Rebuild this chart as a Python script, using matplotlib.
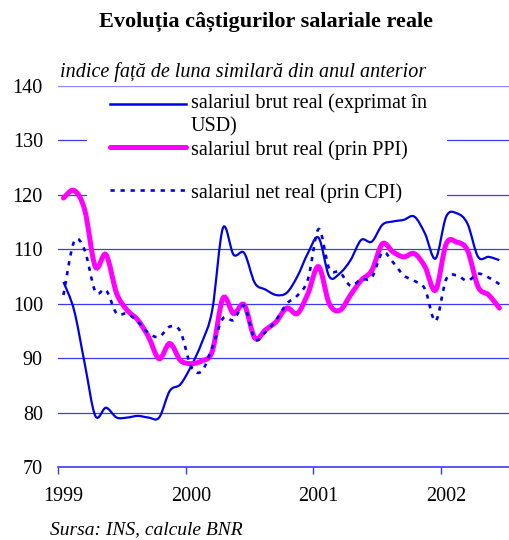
import numpy as np
import matplotlib
matplotlib.use("Agg")
import matplotlib.pyplot as plt
from matplotlib.path import Path
from matplotlib.patches import PathPatch, Rectangle
from matplotlib.lines import Line2D

plt.rcParams['font.family'] = ['Liberation Serif', 'DejaVu Serif']

# monthly data, Jan 1999 - Jun 2002
usd = [104, 98.8, 89, 79.4, 80.9, 79.1, 79.1, 79.4, 79.1, 79.1, 84, 85.2,
       88.5, 92.8, 98.9, 113.9, 109, 109.3, 103.8, 102.6, 101.6, 102, 105, 109.3,
       112.1, 105, 105.6, 108, 111.7, 111.4, 114.5, 115.1, 115.4, 116, 112.9, 108.3,
       116, 116.6, 114.7, 108.6, 108.6, 108]
ppi = [119.4, 120.8, 117.2, 106.8, 109, 101.9, 98.8, 97, 93.9, 89.9, 92.7, 89.6,
       89, 89.5, 91.3, 101, 98.2, 99.8, 93.7, 95.2, 96.7, 99.2, 98.2, 101.9,
       106.8, 100, 98.8, 101.6, 104.3, 106.1, 111, 109.5, 108.6, 109.2, 106.8, 102.5,
       111, 111.3, 109.8, 103.1, 101.6, 99.2]
cpi = [101.6, 111.4, 109.8, 102.2, 102.5, 98.2, 98.2, 96.7, 94.6, 93.9, 95.8, 94.9,
       88.5, 87.6, 92, 97.3, 97, 99.6, 93.5, 94.8, 97, 100, 101.5, 104.5,
       113.7, 106.4, 105.8, 103.3, 104.5, 104.8, 109.4, 107.6, 105.2, 104.2, 102.7, 96.8,
       104.5, 105.2, 104.2, 105.5, 104.8, 103.6]
years = ['1999', '2000', '2001', '2002']
labels = ['salariul brut real (exprimat în\nUSD)',
          'salariul brut real (prin PPI)',
          'salariul net real (prin CPI)']


def smooth_path(xs, ys):
    """Excel-like smoothed line: Catmull-Rom segments as cubic Bezier curves"""
    p = np.column_stack([xs, ys]).astype(float)
    n = len(p)
    verts = [p[0]]
    codes = [Path.MOVETO]
    for i in range(n - 1):
        p_prev = p[max(i - 1, 0)]
        p_next = p[min(i + 2, n - 1)]
        c1 = p[i] + (p[i + 1] - p_prev) / 6.0
        c2 = p[i + 1] - (p_next - p[i]) / 6.0
        verts += [c1, c2, p[i + 1]]
        codes += [Path.CURVE4] * 3
    return Path(verts, codes)


x = np.arange(len(usd))

fig = plt.figure(figsize=(5.1, 5.4), dpi=100)
ax = fig.add_axes([0.114, 0.135, 0.886, 0.706])

grid_c = '#3a3aff'
for v in range(80, 140, 10):
    ax.axhline(v, color=grid_c, lw=0.9, zorder=1)
ax.axhline(140, color='#8a8aff', lw=0.9, zorder=1)

ax.add_patch(PathPatch(smooth_path(x, usd), fill=False, edgecolor='#0000e6',
                       lw=1.6, zorder=3))
ax.add_patch(PathPatch(smooth_path(x, ppi), fill=False, edgecolor='#ff00ff',
                       lw=3.6, zorder=3, capstyle='round'))
ax.add_patch(PathPatch(smooth_path(x, cpi), fill=False, edgecolor='#0000e6',
                       lw=1.9, ls=(0, (1.6, 2.2)), zorder=3))

ax.set_xlim(-0.5, 42)
ax.set_ylim(70, 140)
ax.set_yticks(range(70, 141, 10))
ax.tick_params(axis='y', length=0, pad=11, labelsize=14.5)
ax.set_xticks([-0.5 + 12 * k for k in range(len(years))])
ax.set_xticklabels([])
for k, yr in enumerate(years):
    ax.text(12 * k, 66.4, yr, ha='center', va='top', fontsize=14.5)
ax.tick_params(axis='x', direction='out', length=5, color=grid_c, width=1)

for s in ['top', 'right', 'left']:
    ax.spines[s].set_visible(False)
ax.spines['bottom'].set_color(grid_c)
ax.spines['bottom'].set_linewidth(1.2)

# legend drawn by hand so the handle sits on the first text line (as in Excel)
fig.add_artist(Rectangle((87 / 510, 1 - 202 / 540), 360 / 510, 110 / 540,
                         transform=fig.transFigure, facecolor='white',
                         edgecolor='none', zorder=2))
leg_y = [104, 147, 190]
styles = [dict(color='#0000e6', lw=1.8),
          dict(color='#ff00ff', lw=3.6, solid_capstyle='round'),
          dict(color='#0000e6', lw=1.9, ls=(0, (1.6, 2.2)))]
for yy, st, lab in zip(leg_y, styles, labels):
    fy = 1 - yy / 540
    fig.add_artist(Line2D([110 / 510, 186 / 510], [fy, fy],
                          transform=fig.transFigure, zorder=4, **st))
    if '\n' in lab:
        fig.text(191 / 510, 1 - (yy - 11) / 540, lab, ha='left', va='top',
                 fontsize=14.5, zorder=4, linespacing=1.3)
    else:
        fig.text(191 / 510, 1 - (yy + 3) / 540, lab, ha='left', va='center',
                 fontsize=14.5, zorder=4)

fig.text(0.522, 0.959, 'Evoluția câștigurilor salariale reale', ha='center',
         va='center', fontsize=16, fontweight='bold')
fig.text(0.118, 0.867, 'indice față de luna similară din anul anterior',
         ha='left', va='center', fontsize=14.5, style='italic')
fig.text(0.098, 0.0185, 'Sursa: INS, calcule BNR', ha='left', va='center',
         fontsize=14, style='italic')

fig.savefig('out.png', dpi=100)
